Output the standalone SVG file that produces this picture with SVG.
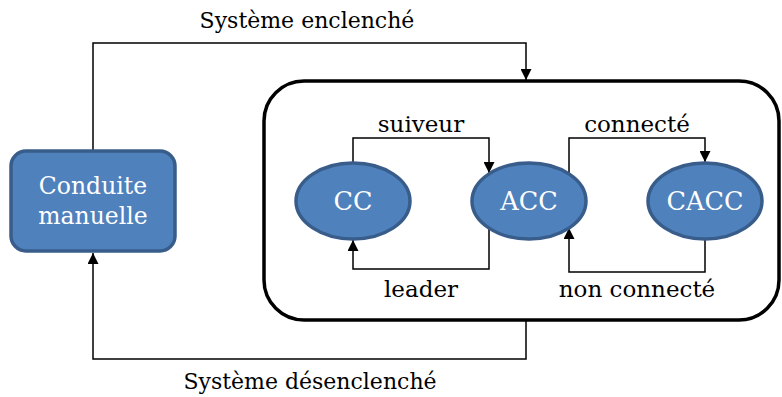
<svg xmlns="http://www.w3.org/2000/svg" width="782" height="397" viewBox="0 0 782 397">
<defs>
<style>
.t{font-family:"DejaVu Serif","Liberation Serif",serif;font-size:23px;fill:#000;text-anchor:middle}
.s{font-size:22px}
.w{font-family:"DejaVu Serif","Liberation Serif",serif;font-size:23.5px;fill:#fff;text-anchor:middle}
.e{font-size:25.5px}
.n{fill:#4f81bd;stroke:#385d8a;stroke-width:3.5}
.c{fill:none;stroke:#000;stroke-width:1.5}
</style>
<marker id="a" markerWidth="11" markerHeight="11" viewBox="0 0 11 11" refX="11" refY="5.5" orient="auto" markerUnits="userSpaceOnUse">
<path d="M0,0 L11,5.5 L0,11 z" fill="#000"/>
</marker>
</defs>
<rect width="782" height="397" fill="#fff"/>
<g id="systeme">
<rect x="264" y="81" width="515" height="239" rx="40" ry="40" fill="none" stroke="#000" stroke-width="3.5"/>
</g>
<g id="connectors">
<path class="c" d="M93,150 V43 H526 V80" marker-end="url(#a)"/>
<path class="c" d="M526,321 V359 H93 V253" marker-end="url(#a)"/>
<path class="c" d="M353,162 V138 H489 V173" marker-end="url(#a)"/>
<path class="c" d="M489,228 V269 H353 V240" marker-end="url(#a)"/>
<path class="c" d="M569,173 V138 H705 V162" marker-end="url(#a)"/>
<path class="c" d="M705,240 V272 H569 V228" marker-end="url(#a)"/>
<text class="t s" x="307" y="28">Système enclenché</text>
<text class="t s" x="310" y="389">Système désenclenché</text>
<text class="t" x="421" y="132">suiveur</text>
<text class="t" x="421" y="297">leader</text>
<text class="t" x="637" y="132">connecté</text>
<text class="t" x="637" y="297">non connecté</text>
</g>
<g id="manuelle">
<rect class="n" x="11" y="151" width="164" height="100" rx="15" ry="15"/>
<text class="w" x="93" y="194">Conduite</text>
<text class="w" x="93" y="224">manuelle</text>
</g>
<g id="cc">
<ellipse class="n" cx="353" cy="201" rx="57" ry="38"/>
<text class="w e" x="353" y="210">CC</text>
</g>
<g id="acc">
<ellipse class="n" cx="529" cy="201" rx="57" ry="38"/>
<text class="w e" x="529" y="210">ACC</text>
</g>
<g id="cacc">
<ellipse class="n" cx="705" cy="201" rx="57" ry="38"/>
<text class="w e" x="705" y="210">CACC</text>
</g>
</svg>
